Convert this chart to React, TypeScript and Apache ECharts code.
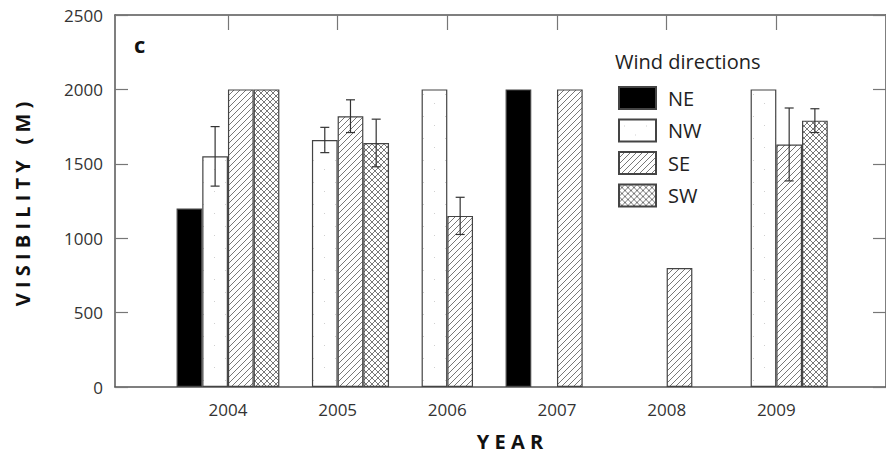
import React, { useEffect, useRef } from 'react';
import * as echarts from 'echarts';

const years = [2004, 2005, 2006, 2007, 2008, 2009];
const directions = ['NE', 'NW', 'SE', 'SW'];
const neValues = [1200, null, null, 2000, null, null];
const nwValues = [1550, 1660, 2000, null, null, 2000];
const seValues = [2000, 1820, 1150, 2000, 800, 1630];
const swValues = [2000, 1640, null, null, null, 1790];
const neErrors = [null, null, null, null, null, null];
const nwErrors = [200, 85, null, null, null, null];
const seErrors = [null, 110, 125, null, null, 245];
const swErrors = [null, 160, null, null, null, 80];
const yTickValues = [0, 500, 1000, 1500, 2000, 2500];

const FONT = '"Open Sans", "Noto Sans", sans-serif';
const BAR_W = 25.7;
const STROKE = '#444';

function makeTile(kind: string) {
  const c = document.createElement('canvas');
  const s = kind === 'dots' ? 22 : 6;
  c.width = s;
  c.height = s;
  const g = c.getContext('2d')!;
  g.fillStyle = '#ffffff';
  g.fillRect(0, 0, s, s);
  g.strokeStyle = '#555';
  g.lineWidth = 0.8;
  if (kind === 'dots') {
    g.fillStyle = '#d0d0d0';
    g.fillRect(5, 6, 1, 1);
    g.fillRect(16, 15, 1, 1);
    return c;
  }
  const fwd = () => {
    g.beginPath();
    g.moveTo(-1, s + 1); g.lineTo(s + 1, -1);
    g.moveTo(-1, 1); g.lineTo(1, -1);
    g.moveTo(s - 1, s + 1); g.lineTo(s + 1, s - 1);
    g.stroke();
  };
  const back = () => {
    g.beginPath();
    g.moveTo(-1, -1); g.lineTo(s + 1, s + 1);
    g.moveTo(s - 1, -1); g.lineTo(s + 1, 1);
    g.moveTo(-1, s - 1); g.lineTo(1, s + 1);
    g.stroke();
  };
  fwd();
  if (kind === 'cross') back();
  return c;
}

export default function App() {
  const ref = useRef<HTMLDivElement>(null);
  useEffect(() => {
    if (!ref.current) return;
    const chart = echarts.init(ref.current, null, { renderer: 'svg' });
    const values = [neValues, nwValues, seValues, swValues];
    const errors = [neErrors, nwErrors, seErrors, swErrors];
    const fills: any[] = [
      '#000000',
      { image: makeTile('dots'), repeat: 'repeat' },
      { image: makeTile('hatch'), repeat: 'repeat' },
      { image: makeTile('cross'), repeat: 'repeat' },
    ];
    const barSeries = directions.map((d, i) => ({
      type: 'bar',
      name: d,
      barWidth: BAR_W,
      barGap: '0%',
      xAxisIndex: 0,
      yAxisIndex: 0,
      data: years.map((y, j) => [y, values[i][j]]).filter((p) => p[1] != null),
      itemStyle: { color: fills[i], borderColor: STROKE, borderWidth: 1.2 },
      emphasis: { disabled: true },
    }));
    const errSeries = directions.map((d, i) => ({
      type: 'custom',
      name: d + ' error',
      xAxisIndex: 0,
      yAxisIndex: 0,
      z: 10,
      silent: true,
      data: years
        .map((y, j) => [y, values[i][j], errors[i][j]])
        .filter((p) => p[1] != null && p[2] != null),
      renderItem: (params: any, api: any) => {
        const x = api.value(0);
        const v = api.value(1);
        const e = api.value(2);
        const hi = api.coord([x, v + e]);
        const lo = api.coord([x, v - e]);
        const cx = hi[0] + (i - 1.5) * BAR_W;
        const st = { stroke: '#333', lineWidth: 1.2 };
        return {
          type: 'group',
          children: [
            { type: 'line', shape: { x1: cx, y1: hi[1], x2: cx, y2: lo[1] }, style: st },
            { type: 'line', shape: { x1: cx - 4.5, y1: hi[1], x2: cx + 4.5, y2: hi[1] }, style: st },
            { type: 'line', shape: { x1: cx - 4.5, y1: lo[1], x2: cx + 4.5, y2: lo[1] }, style: st },
          ],
        };
      },
    }));
    const axisLine = { show: true, lineStyle: { color: '#555', width: 1.5 } };
    chart.setOption({
      animation: false,
      grid: { left: 115, right: -4, top: 15, bottom: 74 },
      xAxis: [
        {
          type: 'value',
          position: 'bottom',
          min: 2002.97,
          max: 2010,
          axisLine: { ...axisLine, onZero: false },
          axisTick: { show: false },
          splitLine: { show: false },
          axisLabel: {
            customValues: years,
            fontSize: 17,
            color: '#333',
            margin: 14,
            fontFamily: FONT,
            formatter: (v: number) => String(Math.round(v)),
          },
        },
        {
          type: 'value',
          position: 'top',
          min: 2002.97,
          max: 2010,
          axisLine: { ...axisLine, onZero: false },
          axisTick: { show: true, inside: true, length: 15, customValues: years, lineStyle: { color: '#777', width: 1.2 } },
          splitLine: { show: false },
          axisLabel: { show: false },
        },
      ],
      yAxis: [
        {
          type: 'value',
          position: 'left',
          min: 0,
          max: 2500,
          interval: 500,
          axisLine,
          axisTick: { show: true, inside: true, length: 13, lineStyle: { color: '#777', width: 1.2 } },
          splitLine: { show: false },
          axisLabel: {
            customValues: yTickValues,
            fontSize: 17,
            color: '#333',
            margin: 12,
            fontFamily: FONT,
            formatter: (v: number) => String(v),
          },
        },
        {
          type: 'value',
          position: 'right',
          min: 0,
          max: 2500,
          interval: 500,
          axisLine,
          axisTick: { show: true, inside: true, length: 13, lineStyle: { color: '#777', width: 1.2 } },
          splitLine: { show: false },
          axisLabel: { show: false },
        },
      ],
      legend: {
        data: directions,
        orient: 'vertical',
        left: 618,
        top: 86,
        padding: 0,
        itemWidth: 37,
        itemHeight: 22,
        itemGap: 8.5,
        icon: 'rect',
        selectedMode: false,
        textStyle: { fontSize: 20, color: '#222', fontFamily: FONT, padding: [0, 0, 0, 7] },
      },
      graphic: [
        {
          type: 'text',
          x: 615,
          y: 51,
          style: { text: 'Wind directions', fontSize: 20, fill: '#222', fontFamily: FONT, textVerticalAlign: 'top' },
        },
        {
          type: 'text',
          x: 134,
          y: 33,
          style: { text: 'c', fontSize: 22, fontWeight: 'bold', fill: '#111', fontFamily: FONT, textVerticalAlign: 'top' },
        },
        {
          type: 'text',
          x: 22,
          y: 204,
          rotation: Math.PI / 2,
          style: {
            text: 'V I S I B I L I T Y   ( M )',
            fontSize: 20,
            fontWeight: 'bold',
            fill: '#111',
            fontFamily: FONT,
            textAlign: 'center',
            textVerticalAlign: 'middle',
          },
        },
        {
          type: 'text',
          x: 510,
          y: 441,
          style: {
            text: 'Y E A R',
            fontSize: 20,
            fontWeight: 'bold',
            fill: '#111',
            fontFamily: FONT,
            textAlign: 'center',
            textVerticalAlign: 'middle',
          },
        },
      ],
      series: [...barSeries, ...errSeries],
    });
    return () => chart.dispose();
  }, []);
  return (
    <div
      ref={ref}
      style={{ position: 'fixed', left: 0, top: 0, width: 886, height: 461, background: '#fff' }}
    />
  );
}
